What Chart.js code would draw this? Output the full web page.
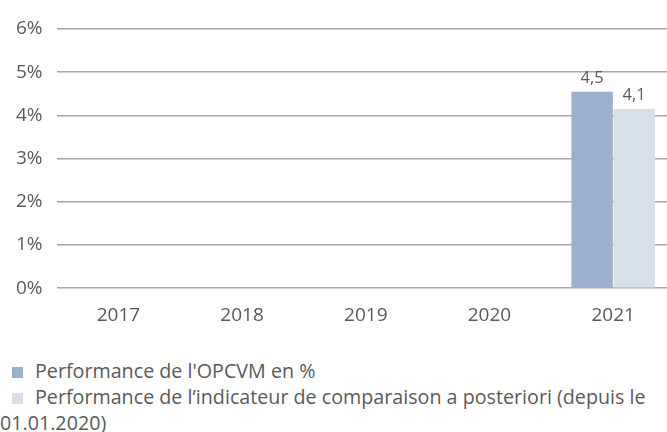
<!DOCTYPE html>
<html>
<head>
<meta charset="utf-8">
<script src="https://cdn.jsdelivr.net/npm/chart.js@4"></script>
<style>
  html, body { margin: 0; padding: 0; background: #fff; overflow: hidden; }
  #wrap { position: relative; width: 675px; height: 432px; }
  #legend {
    position: absolute; left: 0px; top: 358px; width: 664px;
    font-family: "Open Sans", sans-serif; font-size: 19.7px; line-height: 26px; color: #5a5a5a;
  }
  #legend .sw { display: inline-block; width: 11px; height: 11px; margin: 0 12px 0 12px; }
</style>
</head>
<body>
<div id="wrap">
  <canvas id="perfChart" width="675" height="338"></canvas>
  <div id="legend"></div>
</div>
<script>
var years = ['2017', '2018', '2019', '2020', '2021'];
var fundPerf = [null, null, null, null, 4.55];
var benchPerf = [null, null, null, null, 4.15];
var seriesNames = ["Performance de l'OPCVM en %", "Performance de l\u2019indicateur de comparaison a posteriori (depuis le 01.01.2020)"];
var seriesColors = ['#9bb0cc', '#d6e0eb'];
var yTicks = [0, 1, 2, 3, 4, 5, 6];

var fontFamily = '"Open Sans", sans-serif';

// value labels above bars, shown with one decimal and a comma
var valueLabels = {
    id: 'valueLabels',
    afterDatasetsDraw: function(chart) {
        var ctx = chart.ctx;
        ctx.save();
        ctx.font = '16.5px ' + fontFamily;
        ctx.fillStyle = '#5a5a5a';
        ctx.textAlign = 'center';
        ctx.textBaseline = 'alphabetic';
        chart.data.datasets.forEach(function(ds, i) {
            chart.getDatasetMeta(i).data.forEach(function(bar, j) {
                var v = ds.data[j];
                if (v === null) return;
                var txt = (Math.floor(v * 10) / 10).toFixed(1).replace('.', ',');
                ctx.fillText(txt, bar.x, bar.y - 9);
            });
        });
        ctx.restore();
    }
};

var ctx = document.getElementById('perfChart');
var perfChart = new Chart(ctx, {
    type: 'bar',
    data: {
        labels: years,
        datasets: [{
            label: seriesNames[0],
            data: fundPerf,
            backgroundColor: seriesColors[0]
        }, {
            label: seriesNames[1],
            data: benchPerf,
            backgroundColor: seriesColors[1]
        }]
    },
    options: {
        responsive: false,
        animation: false,
        datasets: { bar: { categoryPercentage: 0.68, barPercentage: 0.985 } },
        layout: { padding: { left: 13, right: 0, top: 29, bottom: 3 } },
        scales: {
            x: {
                grid: { display: false },
                border: { display: false },
                ticks: { color: '#5a5a5a', padding: 8, font: { family: fontFamily, size: 19 } }
            },
            y: {
                min: 0,
                max: 6,
                afterBuildTicks: function(axis) {
                    axis.ticks = yTicks.map(function(v) { return { value: v }; });
                },
                grid: { color: '#a6a6a6', lineWidth: 1.5, drawTicks: true, tickLength: 11, tickColor: 'rgba(0,0,0,0)' },
                border: { display: false },
                ticks: {
                    color: '#5a5a5a',
                    padding: 3,
                    font: { family: fontFamily, size: 19 },
                    callback: function(value) { return value + '%'; }
                }
            }
        },
        plugins: {
            legend: { display: false },
            tooltip: { enabled: false }
        }
    },
    plugins: [valueLabels]
});

// legend as html so the long label wraps like the original
var legendHtml = '';
seriesNames.forEach(function(name, i) {
    legendHtml += '<div><span class="sw" style="background:' + seriesColors[i] + '"></span>' + name + '</div>';
});
document.getElementById('legend').innerHTML = legendHtml;
</script>
</body>
</html>
